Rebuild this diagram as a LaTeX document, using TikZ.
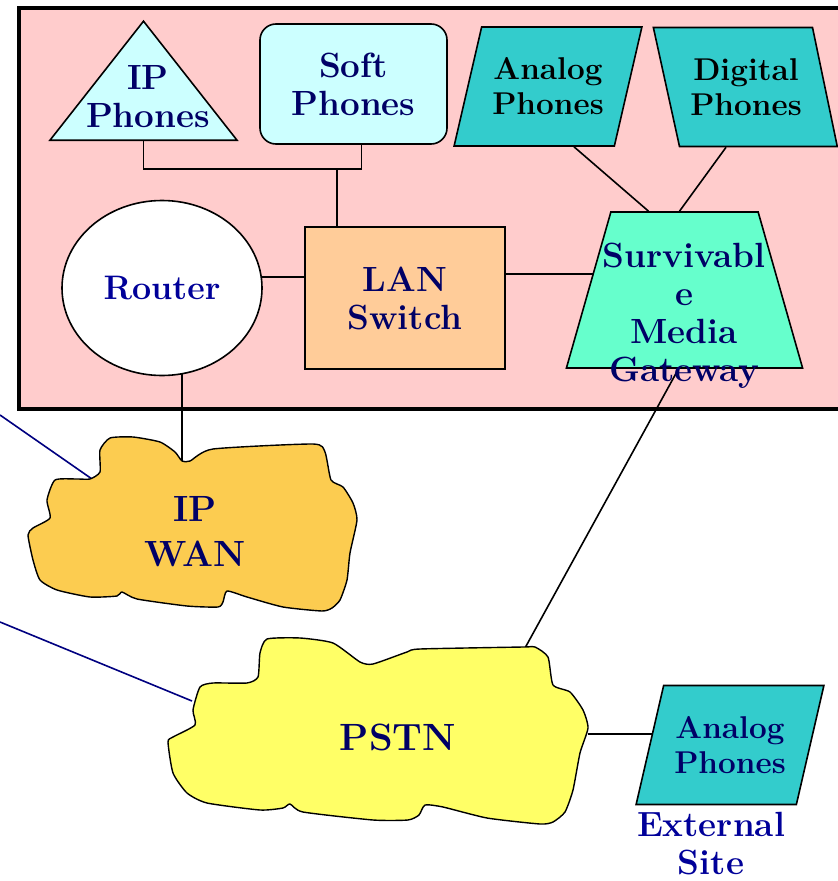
\documentclass[tikz,border=0pt]{standalone}
\usepackage{tikz}
\usetikzlibrary{shapes.geometric,backgrounds}
\definecolor{navytext}{RGB}{0,0,102}
\definecolor{brightnavy}{RGB}{0,0,153}
\definecolor{linkblue}{RGB}{0,0,128}
\definecolor{framepink}{RGB}{255,204,204}
\definecolor{palecyan}{RGB}{204,255,255}
\definecolor{phoneteal}{RGB}{51,204,204}
\definecolor{lanpeach}{RGB}{255,204,153}
\definecolor{gwgreen}{RGB}{102,255,204}
\definecolor{wanorange}{RGB}{252,204,80}
\definecolor{pstnyellow}{RGB}{255,255,102}
\newcommand{\lblfont}{\fontsize{35}{38}\selectfont\bfseries}
\newcommand{\phonefont}{\fontsize{31.5}{35}\selectfont\bfseries}
\tikzset{
  textonly/.style={inner sep=0pt, align=center, font=\lblfont, text=navytext},
  outline/.style={textonly, draw, line width=1.6pt},
  tribox/.style={outline, fill=palecyan, isosceles triangle, shape border rotate=90,
                 isosceles triangle stretches, minimum width=187, minimum height=119},
  softbox/.style={outline, rectangle, rounded corners=16pt, fill=palecyan,
                  minimum width=187, minimum height=120},
  lanbox/.style={outline, rectangle, fill=lanpeach, minimum width=200, minimum height=142},
  routerbox/.style={outline, ellipse, fill=white, text=brightnavy,
                    font=\fontsize{34}{38}\selectfont\bfseries,
                    minimum width=200, minimum height=175},
  parabox/.style={outline, trapezium, trapezium stretches=true, fill=phoneteal,
                  font=\phonefont, minimum width=188, minimum height=119},
  gwbox/.style={outline, trapezium, trapezium stretches=true, fill=gwgreen,
                trapezium left angle=69.5, trapezium right angle=69.5,
                minimum width=237, minimum height=156},
  cloudline/.style={draw, line width=1.4pt},
  wire/.style={line width=1.6pt},
  navywire/.style={line width=1.6pt, draw=linkblue},
}
\begin{document}
\begin{tikzpicture}[x=1pt, y=-1pt]
  \useasboundingbox (0,0) rectangle (838,881);
  \begin{scope}[on background layer]
    \draw[line width=3.5pt, fill=framepink] (19,8) rectangle (850,409);
  \end{scope}

  % site equipment
  \node[tribox, anchor=lower side] (ipph) at (143.5,141) {\phantom{X}};
  \node[textonly] (iptxt) at (148,97) {IP\\Phones};
  \node[softbox] (soft) at (353.5,84) {Soft\\Phones};
  \node[parabox, text=black, trapezium left angle=68, trapezium right angle=112]
    (analog) at (548,86.5) {Analog\\Phones};
  \node[parabox, text=black, minimum width=184, trapezium left angle=111, trapezium right angle=70]
    (digital) at (746,87) {Digital\\Phones};
  \node[routerbox] (router) at (162,288) {Router};
  \node[lanbox] (lan) at (405,298) {LAN\\Switch};
  \node[gwbox] (smg) at (684.5,290) {\phantom{X}};
  \node[textonly] (smgtxt) at (684,316) {Survivabl\\e\\Media\\Gateway};

  % networks
  \draw[cloudline, fill=wanorange] plot[smooth cycle, tension=0.35] coordinates {
    (100,450) (110,438) (133,437) (160,442) (175,452) (182,461) (190,461) (213,449)
    (313,444) (325,452) (331,480) (343,487) (353,503) (357,520) (350,553) (347,580)
    (340,600) (332,608) (322,611) (283,607) (247,597) (227,591) (223,602) (218,607)
    (187,606) (137,599) (122,592) (117,596) (90,597) (57,590) (40,580) (33,560)
    (28,535) (33,528) (50,518) (47,500) (55,480) (77,479) (90,479) (100,472)};
  \node[textonly, font=\fontsize{36.5}{45}\selectfont\bfseries] (wan) at (195,532) {IP\\WAN};
  \coordinate (wanTop) at (182,461);
  \coordinate (wanLeft) at (92,479);

  \draw[cloudline, fill=pstnyellow] plot[smooth cycle, tension=0.35] coordinates {
    (260,653) (267,639) (300,638) (333,643) (360,662) (373,664) (407,652) (420,649)
    (523,647) (535,647) (548,657) (553,685) (570,692) (583,710) (588,728) (580,753)
    (573,790) (565,812) (553,822) (540,824) (487,818) (443,807) (425,805) (419,815)
    (408,820) (373,820) (303,812) (290,804) (283,808) (260,810) (207,803) (187,793)
    (173,773) (168,742) (173,737) (195,725) (193,710) (200,687) (213,683) (247,683)
    (258,677)};
  \node[textonly, font=\fontsize{38}{45}\selectfont\bfseries] (pstn) at (398,737) {PSTN};
  \coordinate (pstnTop) at (525,648);
  \coordinate (pstnLeft) at (192,701);
  \coordinate (pstnRight) at (588,734);

  % external site
  \node[parabox, trapezium left angle=68, trapezium right angle=112]
    (ext) at (730,745) {Analog\\Phones};
  \node[textonly, text=brightnavy] (extsite) at (711,844) {External\\Site};

  \coordinate (bus) at (337,169);
  \coordinate (offWan) at (0,415);
  \coordinate (offPstn) at (0,622);

  % links
  \begin{scope}[on background layer]
    \draw[wire] (ipph.lower side) |- (bus) -| ([xshift=8pt]soft.south);
    \draw[wire] (bus) -- (bus |- lan.north);
    \draw[wire] ([yshift=11pt]router.center) -- ([yshift=11pt]router.center -| lan.center);
    \draw[wire] ([yshift=24pt]lan.center) -- ([yshift=24pt]lan.center -| smg.center);
    \draw[wire] ([xshift=26pt]analog.south) -- ([xshift=-36pt]smg.north);
    \draw[wire] ([xshift=-20pt]digital.south) -- ([xshift=-5pt]smg.north);
    \draw[wire] ([xshift=20pt]router.center) -- (wanTop);
    \draw[wire] ([xshift=-6pt]smg.south) -- (pstnTop);
    \draw[wire] (pstnRight) -- (pstnRight -| ext.center);
    \draw[navywire] (offWan) -- (wanLeft);
    \draw[navywire] (offPstn) -- (pstnLeft);
  \end{scope}
\end{tikzpicture}
\end{document}
